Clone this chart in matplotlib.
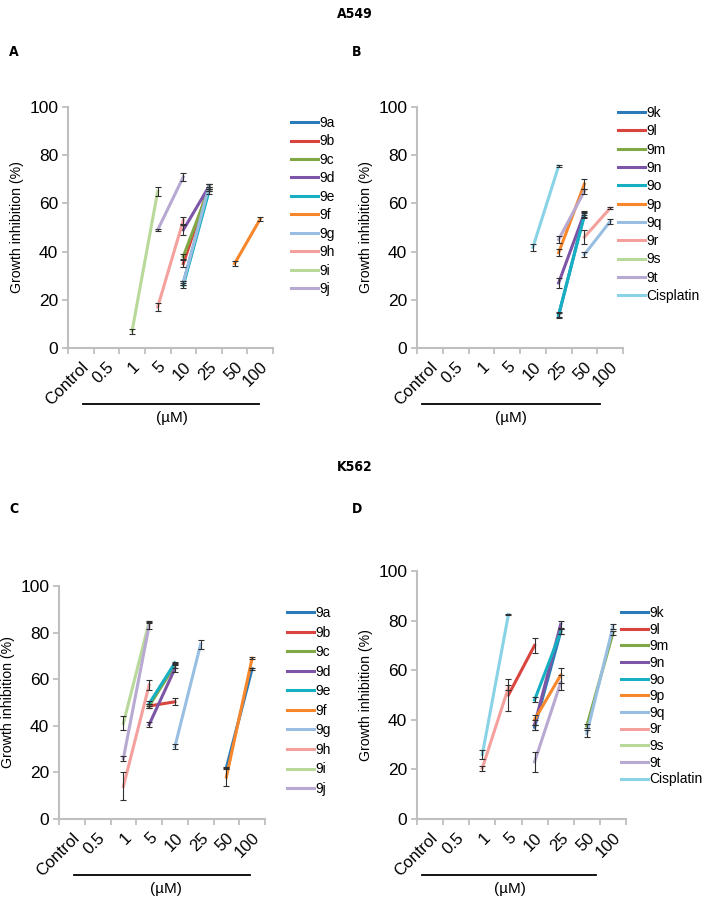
import numpy as np
import matplotlib
matplotlib.use('Agg')
import matplotlib.pyplot as plt
from matplotlib.lines import Line2D
from matplotlib.ticker import FixedLocator

plt.rcParams['font.family'] = ['Liberation Sans', 'DejaVu Sans']

categories = ['Control', '0.5', '1', '5', '10', '25', '50', '100']

# each series: name, first category, two values, two errors
nombres_a = ['9a', '9b', '9c', '9d', '9e', '9f', '9g', '9h', '9i', '9j']
inicio_a = ['10', '10', '10', '10', '10', '50', '10', '5', '1', '5']
valores_a = [[27, 66], [35, 67], [38, 66], [49, 67], [26, 65],
             [35, 53.5], [27, 67], [17, 53], [7, 65], [49, 71]]
errores_a = [[1, 1], [1.5, 1], [1, 1], [2, 1], [1, 1],
             [1, 1], [1, 1], [1.5, 1.5], [1, 2], [0.5, 1.5]]

nombres_b = ['9k', '9l', '9m', '9n', '9o', '9p', '9q', '9r', '9s', '9t', 'Cisplatin']
inicio_b = ['25', None, None, '25', '25', '25', '50', '50', None, '25', '10']
valores_b = [[13.5, 55.5], None, None, [27, 56], [13.8, 55], [39.5, 68],
             [38.8, 52.5], [46, 58], None, [45, 65], [41.7, 75.5]]
errores_b = [[1, 1], None, None, [2, 1], [1, 1], [1.5, 2],
             [1, 1], [3, 0.5], None, [1.5, 1], [1.5, 0.5]]

nombres_c = nombres_a
inicio_c = ['50', '5', '5', '5', '5', '50', '10', '1', '1', '1']
valores_c = [[22, 64.5], [48.5, 50.3], [48.5, 66], [40.5, 64.5], [49.5, 67],
             [18, 69], [31, 75], [14, 57.5], [41, 84.5], [26, 83]]
errores_c = [[0.5, 0.5], [1, 1.5], [1, 1], [1, 1.5], [1, 0.5],
             [4, 0.5], [1, 2], [6, 2], [3, 0.5], [1, 1.5]]

nombres_d = nombres_b
inicio_d = ['10', '5', '50', '10', '10', '10', '50', '1', None, '10', '1']
valores_d = [[37, 75.5], [50, 70], [37.5, 75], [38, 78.5], [48, 75.5], [40, 58],
             [34.5, 77.5], [20.5, 53], None, [23, 55], [26, 82.5]]
errores_d = [[1, 1], [6.5, 3], [1, 1], [2, 1.5], [1, 1], [2, 3],
             [1.5, 1], [1, 1], None, [4, 3], [2, 0.3]]

colores = {'9a': '#2b7bb9', '9b': '#d9443f', '9c': '#80a844', '9d': '#7d55a6',
           '9e': '#17afc2', '9f': '#f7872a', '9g': '#98bfe2', '9h': '#f4a19e',
           '9i': '#b9d99a', '9j': '#b7a9d1',
           '9k': '#2b7bb9', '9l': '#d9443f', '9m': '#80a844', '9n': '#7d55a6',
           '9o': '#17afc2', '9p': '#f7872a', '9q': '#98bfe2', '9r': '#f4a19e',
           '9s': '#b9d99a', '9t': '#b7a9d1', 'Cisplatin': '#88d3e6'}

gris = '#bfbfbf'

fig = plt.figure(figsize=(7.12, 9.0), dpi=100)

def px(x0, y0, x1, y1):
    # caja en pixeles -> fraccion de figura
    return [x0 / 712, 1 - y1 / 900, (x1 - x0) / 712, (y1 - y0) / 900]

def panel(caja, nombres, inicio, valores, errores, ley_xy, espacio):
    ax = fig.add_axes(px(*caja))
    for n, s, v, e in zip(nombres, inicio, valores, errores):
        if s is None:
            ax.plot([], [], color=colores[n], lw=2.2, label=n)
            continue
        i = categories.index(s)
        x = np.array([i, i + 1])
        ax.errorbar(x, v, yerr=e, fmt='none', ecolor='#303030', elinewidth=0.8,
                    capsize=2.5, capthick=0.8, zorder=3)
        ax.plot(x, v, color=colores[n], lw=2.2, label=n, zorder=2)
    ax.set_xlim(-0.5, len(categories) - 0.5)
    ax.set_ylim(0, 100)
    ax.set_yticks([0, 20, 40, 60, 80, 100])
    ax.set_xticks(np.arange(len(categories)))
    ax.set_xticklabels(categories, rotation=45, ha='right', va='top',
                       rotation_mode='anchor', fontsize=12)
    ax.xaxis.set_minor_locator(FixedLocator(np.arange(len(categories) + 1) - 0.5))
    ax.tick_params(axis='x', which='major', length=0, pad=8)
    ax.tick_params(axis='x', which='minor', length=4, width=1.3, color=gris)
    ax.tick_params(axis='y', length=4, width=1.3, color=gris, labelsize=12.5, pad=3)
    for lado in ['top', 'right']:
        ax.spines[lado].set_visible(False)
    for lado in ['left', 'bottom']:
        ax.spines[lado].set_color(gris)
        ax.spines[lado].set_linewidth(1.5)
    ax.set_ylabel('Growth inhibition (%)', fontsize=10.2, labelpad=4)
    ax.legend(loc='upper left', bbox_to_anchor=(ley_xy[0] / 712, 1 - ley_xy[1] / 900),
              bbox_transform=fig.transFigure, frameon=False, fontsize=10,
              handlelength=1.95, handletextpad=0.1, labelspacing=espacio,
              borderpad=0, borderaxespad=0)
    return ax

panel((68, 107, 273, 348), nombres_a, inicio_a, valores_a, errores_a, (291, 116), 0.32)
panel((417, 107, 623, 348), nombres_b, inicio_b, valores_b, errores_b, (618, 106), 0.31)
panel((59, 586, 265, 819), nombres_c, inicio_c, valores_c, errores_c, (287, 606), 0.40)
panel((417, 571, 626, 819), nombres_d, inicio_d, valores_d, errores_d, (621, 606), 0.19)

# barras de unidades bajo los ejes x
for x0, x1, y, xt, yt in [(83, 259, 404, 172, 418), (422, 600, 404, 511, 418),
                          (74, 250, 875, 166, 889), (422, 596, 875, 510, 889)]:
    fig.add_artist(Line2D([x0 / 712, x1 / 712], [1 - y / 900, 1 - y / 900],
                          color='black', lw=1.3))
    fig.text(xt / 712, 1 - yt / 900, '(µM)', ha='center', va='center', fontsize=11)

titulo = dict(weight='bold', fontsize=10, ha='center', va='center',
              family=['DejaVu Sans'], fontstretch='condensed')
fig.text(355 / 712, 1 - 14 / 900, 'A549', **titulo)
fig.text(355 / 712, 1 - 467 / 900, 'K562', **titulo)
for letra, x, y in [('A', 14, 52), ('B', 357, 52), ('C', 14, 509), ('D', 357, 509)]:
    fig.text(x / 712, 1 - y / 900, letra, **titulo)

fig.savefig('out.png', dpi=100)
